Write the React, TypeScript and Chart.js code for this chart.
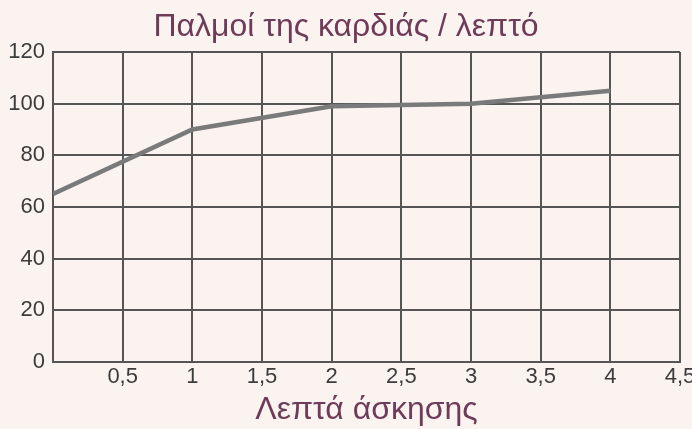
import React, { useEffect, useRef } from "react";
import { Chart, registerables } from "chart.js";

Chart.register(...registerables);

const minutes = [0, 1, 2, 3, 4];
const heartRate = [65, 90, 99, 100, 105];
const xTickStep = 0.5;
const xMax = 4.5;
const yMax = 120;
const yTickStep = 20;
const titleText = "Παλμοί της καρδιάς / λεπτό";
const xTitleText = "Λεπτά άσκησης";

export default function App() {
  const ref = useRef<HTMLCanvasElement | null>(null);
  useEffect(() => {
    document.body.style.margin = "0";
    const ctx = ref.current!;
    const chart = new Chart(ctx, {
      type: "line",
      data: {
        datasets: [
          {
            data: minutes.map((m, i) => ({ x: m, y: heartRate[i] })),
            borderColor: "#7a7a7a",
            borderWidth: 4.5,
            pointRadius: 0,
            tension: 0,
            fill: false,
          },
        ],
      },
      options: {
        animation: false,
        responsive: false,
        maintainAspectRatio: false,
        layout: { padding: 0 },
        plugins: {
          legend: { display: false },
          tooltip: { enabled: false },
          title: {
            display: true,
            text: titleText,
            color: "#6e3b58",
            font: { family: "Liberation Sans", size: 32, weight: "normal" },
            padding: { top: 8, bottom: 5.6 },
          },
        },
        scales: {
          x: {
            type: "linear",
            min: 0,
            max: xMax,
            afterFit: (s: any) => {
              s.height = 67;
              s.paddingRight = 12;
            },
            ticks: {
              stepSize: xTickStep,
              color: "#3c3c3c",
              font: { family: "Liberation Sans", size: 22 },
              padding: 2,
              maxRotation: 0,
              autoSkip: false,
              callback: (v: any) => (v === 0 ? "" : String(v).replace(".", ",")),
            },
            grid: { color: "#555", lineWidth: 2, drawTicks: false },
            border: { color: "#555", width: 2 },
            title: {
              display: true,
              text: xTitleText,
              color: "#6e3b58",
              font: { family: "Liberation Sans", size: 32 },
              padding: { top: 0, bottom: 0 },
            },
          },
          y: {
            min: 0,
            max: yMax,
            afterFit: (s: any) => {
              s.width = 53;
            },
            ticks: {
              stepSize: yTickStep,
              color: "#3c3c3c",
              font: { family: "Liberation Sans", size: 22 },
              padding: 8,
            },
            grid: { color: "#555", lineWidth: 2, drawTicks: false },
            border: { color: "#555", width: 2 },
          },
        },
      },
    });
    return () => chart.destroy();
  }, []);
  return (
    <div style={{ width: 692, height: 429, background: "#faf3f0" }}>
      <canvas ref={ref} width={692} height={429} style={{ display: "block" }} />
    </div>
  );
}
